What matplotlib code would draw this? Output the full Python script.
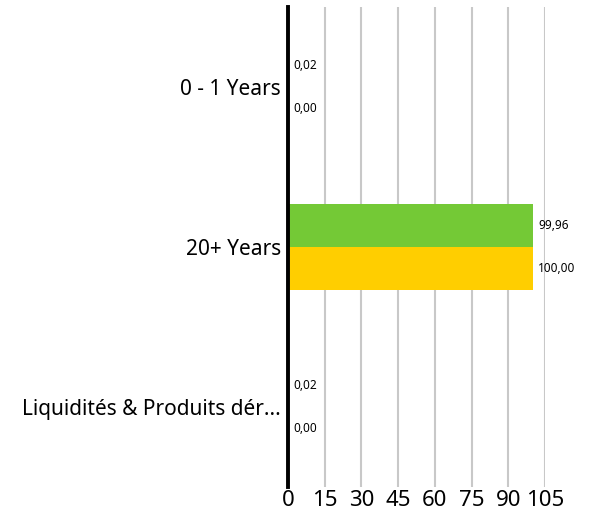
import numpy as np
import matplotlib.pyplot as plt

categories = ['0 - 1 Years', '20+ Years', 'Liquidités & Produits dér...']
fund = [0.02, 99.96, 0.02]
benchmark = [0.00, 100.00, 0.00]
fund_labels = ['0,02', '99,96', '0,02']
bench_labels = ['0,00', '100,00', '0,00']
xticks = [0, 15, 30, 45, 60, 75, 90, 105]

plt.rcParams['font.family'] = ['Noto Sans', 'DejaVu Sans']

fig = plt.figure(figsize=(6.02, 5.16), dpi=100)
ax = fig.add_axes([288 / 602, 29 / 516, 257 / 602, 480 / 516])

y = np.arange(len(categories))
h = 0.27
ax.barh(y - h / 2, fund, height=h, color='#74c936', zorder=3)
ax.barh(y + h / 2, benchmark, height=h, color='#ffce00', zorder=3)

for i in range(len(categories)):
    ax.text(fund[i] + 2.2, y[i] - h / 2, fund_labels[i], va='center', ha='left', fontsize=8.5)
    ax.text(benchmark[i] + 2.2, y[i] + h / 2, bench_labels[i], va='center', ha='left', fontsize=8.5)

ax.set_ylim(len(categories) - 0.5, -0.5)
ax.set_xlim(0, 105)
ax.set_yticks(y)
ax.set_yticklabels(categories, fontsize=15)
ax.set_xticks(xticks)
ax.set_xticklabels([str(t) for t in xticks], fontsize=16)
ax.tick_params(axis='both', length=0)
ax.tick_params(axis='y', pad=5)
ax.tick_params(axis='x', pad=2)

for s in ['top', 'right', 'bottom']:
    ax.spines[s].set_visible(False)
ax.spines['left'].set_linewidth(2.8)
ax.spines['left'].set_color('black')
ax.spines['left'].set_zorder(5)

ax.grid(axis='x', color='#c8c8c8', linewidth=1.5, zorder=0)
ax.grid(axis='y', visible=False)

fig.savefig('out.png', dpi=100)
